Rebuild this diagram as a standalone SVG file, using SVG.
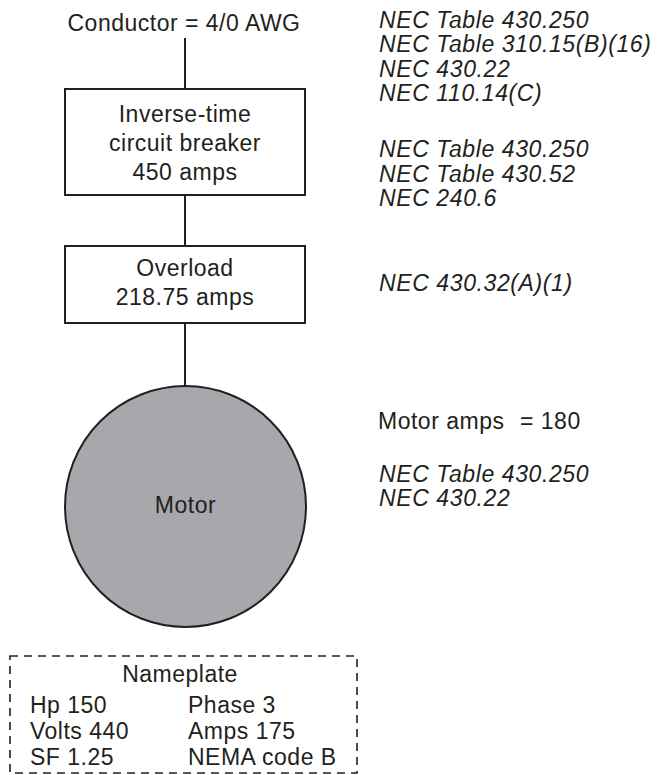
<svg xmlns="http://www.w3.org/2000/svg" width="657" height="775" viewBox="0 0 657 775">
<style>
text{font-family:"Liberation Sans",Arial,sans-serif;font-size:23px;fill:#231f20;letter-spacing:0.5px}
.c{text-anchor:middle}
.i{font-style:italic;letter-spacing:0.6px}
.box{fill:#fff;stroke:#231f20;stroke-width:2}
.wire{stroke:#231f20;stroke-width:2;fill:none}
</style>
<rect width="657" height="775" fill="#fff"/>
<g id="connectors">
<line class="wire" x1="185" y1="38" x2="185" y2="89"/>
<line class="wire" x1="185" y1="195" x2="185" y2="246"/>
<line class="wire" x1="185" y1="323" x2="185" y2="386"/>
</g>
<g id="conductor">
<text class="c" x="184" y="31">Conductor = 4/0 AWG</text>
</g>
<g id="breaker">
<rect class="box" x="65" y="89" width="240" height="106"/>
<text class="c" x="185" y="122">Inverse-time</text>
<text class="c" x="185" y="151">circuit breaker</text>
<text class="c" x="185" y="180">450 amps</text>
</g>
<g id="overload">
<rect class="box" x="65" y="246" width="240" height="77"/>
<text class="c" x="185" y="276">Overload</text>
<text class="c" x="185" y="305">218.75 amps</text>
</g>
<g id="motor">
<circle cx="185.5" cy="506.5" r="120.5" fill="#a7a8ab" stroke="#231f20" stroke-width="2"/>
<text class="c" x="185.5" y="513">Motor</text>
</g>
<g id="refs">
<text class="i" x="379" y="27.5">NEC Table 430.250</text>
<text class="i" x="379" y="52">NEC Table 310.15(B)(16)</text>
<text class="i" x="379" y="76.5">NEC 430.22</text>
<text class="i" x="379" y="101">NEC 110.14(C)</text>
<text class="i" x="379" y="157">NEC Table 430.250</text>
<text class="i" x="379" y="182">NEC Table 430.52</text>
<text class="i" x="379" y="206">NEC 240.6</text>
<text class="i" x="379" y="291">NEC 430.32(A)(1)</text>
<text x="378" y="429">Motor amps<tspan x="520">= 180</tspan></text>
<text class="i" x="379" y="482">NEC Table 430.250</text>
<text class="i" x="379" y="506">NEC 430.22</text>
</g>
<g id="nameplate">
<rect x="10" y="656" width="347" height="117" fill="none" stroke="#231f20" stroke-width="1.6" stroke-dasharray="8,6"/>
<text class="c" x="180" y="682">Nameplate</text>
<text x="30" y="713">Hp 150</text>
<text x="30" y="739">Volts 440</text>
<text x="30" y="765">SF 1.25</text>
<text x="188" y="713">Phase 3</text>
<text x="188" y="739">Amps 175</text>
<text x="188" y="765">NEMA code B</text>
</g>
</svg>
